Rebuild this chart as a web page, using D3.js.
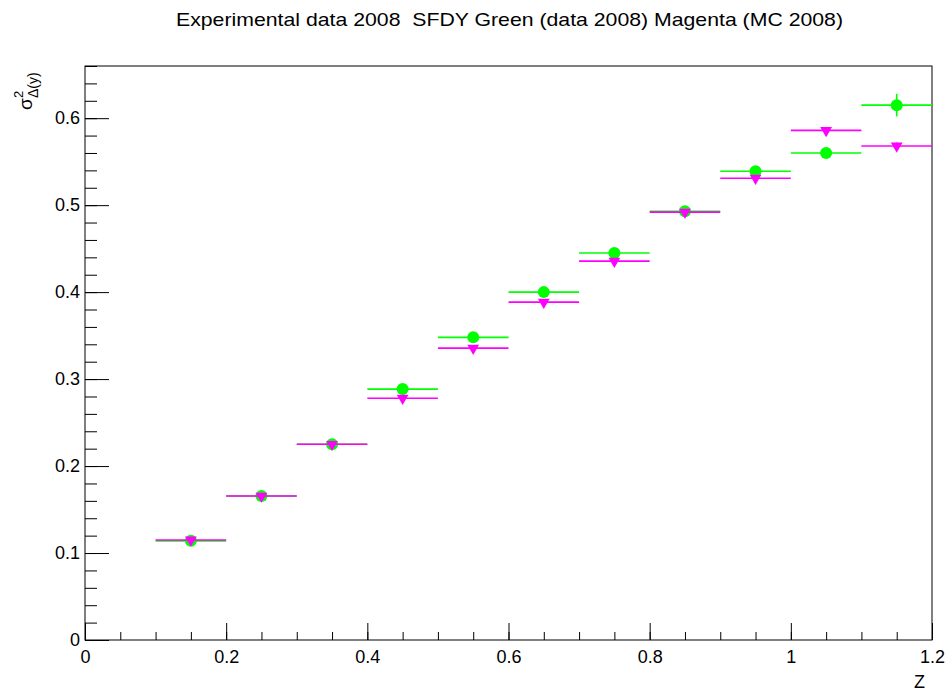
<!DOCTYPE html>
<html>
<head>
<meta charset="utf-8">
<script src="https://cdn.jsdelivr.net/npm/d3@7"></script>
<style>
  body { margin: 0; background: #fff; }
  text { font-family: "Liberation Sans", Arial, Helvetica, sans-serif; }
</style>
</head>
<body>
<svg id="chart" width="952" height="693"></svg>
<script>
// bin centres (Z), half-width of each bin
var zBins = [0.15, 0.25, 0.35, 0.45, 0.55, 0.65, 0.75, 0.85, 0.95, 1.05, 1.15];
var binHalf = 0.05;

// green: data 2008
var dataVals = [0.114, 0.1655, 0.225, 0.2885, 0.348, 0.400, 0.445, 0.493, 0.539, 0.560, 0.615];
var dataErrs = [0.002, 0.002, 0.002, 0.003, 0.003, 0.004, 0.004, 0.005, 0.006, 0.006, 0.013];

// magenta: MC 2008
var mcVals = [0.115, 0.1655, 0.225, 0.278, 0.3356, 0.3885, 0.4356, 0.492, 0.531, 0.586, 0.568];
var mcErrs = [0.002, 0.002, 0.002, 0.002, 0.002, 0.003, 0.003, 0.003, 0.003, 0.004, 0.004];

var xTicks = [0, 0.2, 0.4, 0.6, 0.8, 1, 1.2];
var yTicks = [0, 0.1, 0.2, 0.3, 0.4, 0.5, 0.6];

var titleText = "Experimental data 2008  SFDY Green (data 2008) Magenta (MC 2008)";

// set the dimensions and margins of the graph
var margin = {top: 66, right: 20, bottom: 53, left: 85},
    width = 952 - margin.left - margin.right,
    height = 693 - margin.top - margin.bottom;

var svg = d3.select("#chart")
    .append("g")
    .attr("transform", "translate(" + margin.left + "," + margin.top + ")");

var x = d3.scaleLinear().domain([0, 1.2]).range([0, width]);
var y = d3.scaleLinear().domain([0, 0.66]).range([height, 0]);

// frame
svg.append("rect")
    .attr("width", width)
    .attr("height", height)
    .attr("fill", "none")
    .attr("stroke", "#000")
    .attr("stroke-width", 1);

// minor ticks
svg.append("g")
    .attr("transform", "translate(0," + height + ")")
    .call(d3.axisBottom(x).tickValues(d3.range(0, 1.2001, 0.05)).tickSize(-8).tickFormat(""))
    .call(function(g) { g.select(".domain").remove(); });
svg.append("g")
    .call(d3.axisLeft(y).tickValues(d3.range(0, 0.6601, 0.02)).tickSize(-12).tickFormat(""))
    .call(function(g) { g.select(".domain").remove(); });

// X axis
svg.append("g")
    .attr("transform", "translate(0," + height + ")")
    .call(d3.axisBottom(x).tickValues(xTicks).tickSize(-17).tickPadding(10).tickFormat(d3.format("")))
    .call(function(g) { g.select(".domain").remove(); })
    .selectAll("text")
    .attr("font-size", 18)
    .attr("font-family", "Liberation Sans, Arial, sans-serif");

// Y axis
svg.append("g")
    .call(d3.axisLeft(y).tickValues(yTicks).tickSize(-24).tickPadding(5).tickFormat(d3.format("")))
    .call(function(g) { g.select(".domain").remove(); })
    .selectAll("text")
    .attr("font-size", 18)
    .attr("font-family", "Liberation Sans, Arial, sans-serif");

svg.selectAll(".tick line").attr("stroke", "#000").attr("stroke-width", 1);

// series drawing
function drawSeries(vals, errs, color, cls) {
    var g = svg.append("g").attr("class", cls);
    var pts = zBins.map(function(z, i) { return {z: z, v: vals[i], e: errs[i]}; });
    g.selectAll("line.h").data(pts).enter().append("line")
        .attr("x1", function(d) { return x(d.z - binHalf); })
        .attr("x2", function(d) { return x(d.z + binHalf); })
        .attr("y1", function(d) { return y(d.v); })
        .attr("y2", function(d) { return y(d.v); })
        .attr("stroke", color).attr("stroke-width", 1.6);
    g.selectAll("line.v").data(pts).enter().append("line")
        .attr("x1", function(d) { return x(d.z); })
        .attr("x2", function(d) { return x(d.z); })
        .attr("y1", function(d) { return y(d.v - d.e); })
        .attr("y2", function(d) { return y(d.v + d.e); })
        .attr("stroke", color).attr("stroke-width", 1.6);
    return {g: g, pts: pts};
}

var green = drawSeries(dataVals, dataErrs, "#00ff00", "data");
green.g.selectAll("circle").data(green.pts).enter().append("circle")
    .attr("cx", function(d) { return x(d.z); })
    .attr("cy", function(d) { return y(d.v); })
    .attr("r", 6)
    .attr("fill", "#00ff00");

var magenta = drawSeries(mcVals, mcErrs, "#ff00ff", "mc");
var tri = d3.symbol().type(d3.symbolTriangle).size(60);
magenta.g.selectAll("path").data(magenta.pts).enter().append("path")
    .attr("d", tri)
    .attr("transform", function(d) { return "translate(" + x(d.z) + "," + y(d.v) + ") rotate(180)"; })
    .attr("fill", "#ff00ff");

// axis titles
svg.append("text")
    .attr("x", width - 7)
    .attr("y", height + 48)
    .attr("text-anchor", "end")
    .attr("font-size", 18)
    .text("Z");

var yt = d3.select("#chart").append("g")
    .attr("transform", "translate(32,110) rotate(-90)");
yt.append("text").attr("x", 0).attr("y", 0).attr("font-size", 19).text("σ");
yt.append("text").attr("x", 12).attr("y", -9).attr("font-size", 13).text("2");
yt.append("text").attr("x", 12).attr("y", 6).attr("font-size", 14).text("Δ(y)");

// main title
d3.select("#chart").append("text")
    .attr("x", 509.5)
    .attr("y", 26)
    .attr("text-anchor", "middle")
    .attr("font-size", 19)
    .attr("textLength", 667)
    .attr("lengthAdjust", "spacingAndGlyphs")
    .style("white-space", "pre")
    .text(titleText);
</script>
</body>
</html>
